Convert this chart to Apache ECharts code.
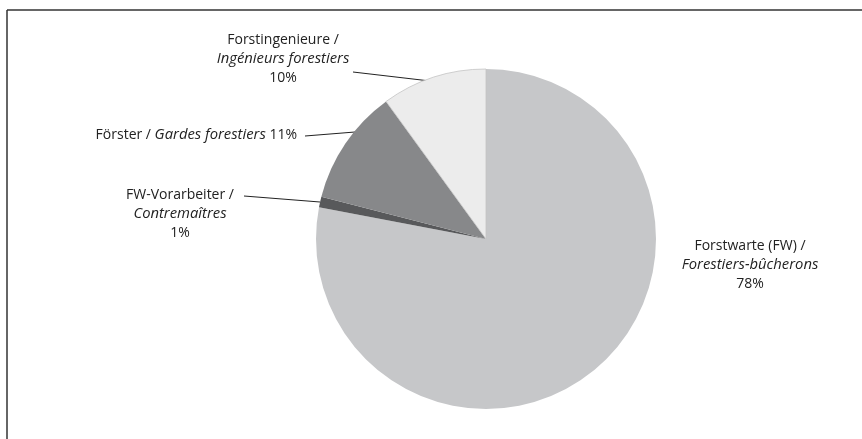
<!DOCTYPE html>
<html>
<head>
<meta charset="utf-8">
<script src="https://cdn.jsdelivr.net/npm/echarts@6/dist/echarts.min.js"></script>
<style>
html,body{margin:0;padding:0;background:#fff;}
#chart{width:862px;height:439px;}
</style>
</head>
<body>
<div id="chart"></div>
<script>
// Data
const deNames = ['Forstwarte (FW) /', 'FW-Vorarbeiter /', 'Förster /', 'Forstingenieure /'];
const frNames = ['Forestiers-bûcherons', 'Contremaîtres', 'Gardes forestiers', 'Ingénieurs forestiers'];
const values = [78, 1, 11, 10];

// Styles (kept separate from data)
const colors = ['#c6c7c9', '#58595b', '#87888a', '#ececec'];
const borderColors = ['#c6c7c9', '#58595b', '#87888a', '#c4c4c4'];
// label placement: [x, y, align]; leader line: [[x1,y1],[x2,y2]] or null
const labelPos = [
  [750, 265, 'center'],
  [180, 214, 'center'],
  [297, 135, 'right'],
  [283, 59, 'center']
];
const leaders = [
  null,
  [[244, 196], [320, 202]],
  [[305, 136], [355, 132]],
  [[353, 72], [430, 81]]
];

const chart = echarts.init(document.getElementById('chart'), null, {renderer: 'canvas'});

const data = values.map((v, i) => ({
  value: v,
  name: deNames[i],
  itemStyle: {color: colors[i], borderColor: borderColors[i], borderWidth: i === 3 ? 0.8 : 0}
}));

chart.setOption({
  backgroundColor: '#ffffff',
  animation: false,
  graphic: [
    {type: 'line', shape: {x1: 7, y1: 10, x2: 862, y2: 10}, style: {stroke: '#333', lineWidth: 1.5}},
    {type: 'line', shape: {x1: 7, y1: 10, x2: 7, y2: 439}, style: {stroke: '#333', lineWidth: 1.5}}
  ],
  series: [{
    type: 'pie',
    center: [486, 239],
    radius: [0, 170],
    startAngle: 90,
    clockwise: true,
    data: data,
    label: {
      show: true,
      position: 'outside',
      fontFamily: 'Open Sans',
      fontSize: 14,
      color: '#222',
      lineHeight: 19,
      align: 'center',
      formatter: function (p) {
        const i = p.dataIndex;
        const pct = Math.round(p.percent) + '%';
        if (i === 2) return deNames[i] + ' {i|' + frNames[i] + '} ' + pct;
        return deNames[i] + '\n{i|' + frNames[i] + '}\n' + pct;
      },
      rich: {
        i: {fontStyle: 'italic', fontFamily: 'Open Sans', fontSize: 14.8, color: '#222', lineHeight: 19}
      }
    },
    labelLine: {
      show: true,
      lineStyle: {color: '#222', width: 1}
    },
    labelLayout: function (p) {
      const i = p.dataIndex;
      const lp = labelPos[i];
      const res = {x: lp[0], y: lp[1], align: lp[2], verticalAlign: 'middle'};
      res.labelLinePoints = leaders[i] ? leaders[i] : [[0, 0], [0, 0]];
      return res;
    }
  }]
});
</script>
</body>
</html>
